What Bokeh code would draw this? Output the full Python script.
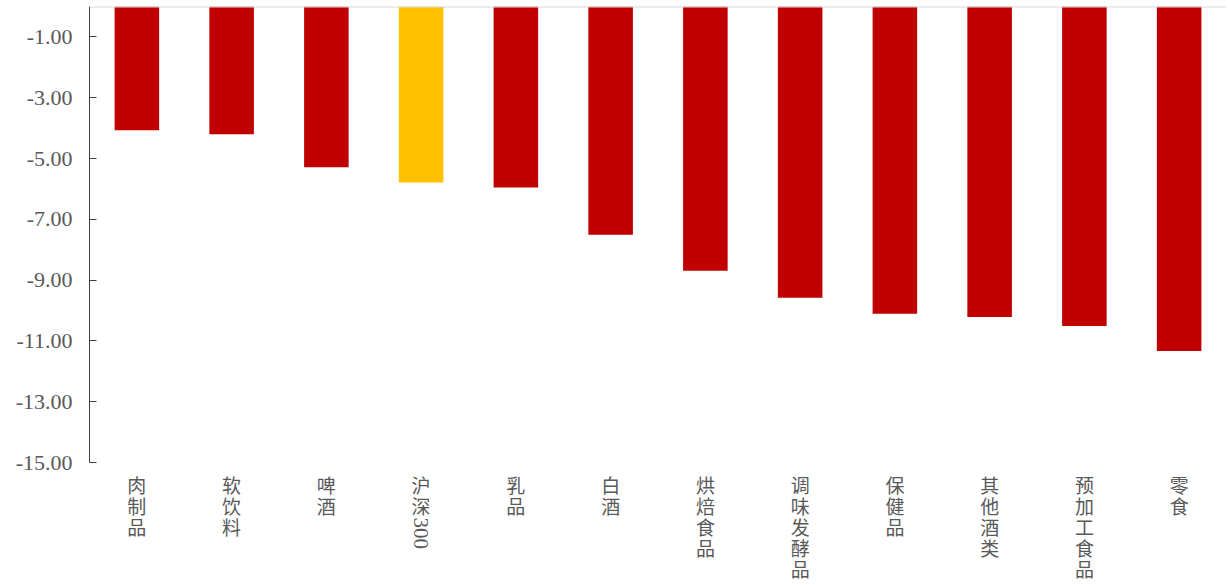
import math
from bokeh.plotting import figure
from bokeh.models import ColumnDataSource, Range1d, FactorRange, FixedTicker, NumeralTickFormatter, Span
from bokeh.core.properties import value
from bokeh.embed import file_html
from bokeh.resources import INLINE

categories = ["肉制品", "软饮料", "啤酒", "沪深300", "乳品", "白酒", "烘焙食品", "调味发酵品", "保健品", "其他酒类", "预加工食品", "零食"]
values = [-4.07, -4.20, -5.29, -5.79, -5.95, -7.51, -8.69, -9.58, -10.11, -10.21, -10.51, -11.33]
highlight = "沪深300"
y_ticks = [-1, -3, -5, -7, -9, -11, -13, -15]

W, H = 1226, 584
TOP, LEFT = 6, 89
frame_h = H - TOP
axis_px = 456                      # pixel height of the 0..-15 axis
ymin, ymax = -15, 0
ppu = axis_px / (ymax - ymin)
y_low = ymax - frame_h / ppu       # extended range so labels fit below axis

colors = ["#FFC000" if c == highlight else "#C00000" for c in categories]
src = ColumnDataSource(dict(cat=categories, val=values, color=colors))

p = figure(x_range=FactorRange(*categories), y_range=Range1d(y_low, ymax),
           width=W, height=H, output_backend="svg", toolbar_location=None,
           min_border_left=LEFT, min_border_top=TOP, min_border_right=0, min_border_bottom=0)
p.vbar(x="cat", top=0, bottom="val", width=0.47, fill_color="color", line_color=None, source=src)

p.add_layout(Span(location=0, dimension="width", line_color="#d9d9d9", line_width=2))

p.grid.visible = False
p.outline_line_color = None
p.background_fill_color = "white"
p.border_fill_color = "white"
p.xaxis.visible = False

ya = p.yaxis[0]
ya.bounds = (ymin, ymax)
ya.ticker = FixedTicker(ticks=y_ticks)
ya.formatter = NumeralTickFormatter(format="0.00")
ya.major_tick_in = 7
ya.major_tick_out = 0
ya.minor_tick_line_color = None
ya.axis_line_color = "#404040"
ya.major_tick_line_color = "#404040"
ya.major_label_text_font = "Liberation Serif"
ya.major_label_text_font_size = "22px"
ya.major_label_text_color = "#595959"
ya.major_label_standoff = 17

# vertical category labels, one character per line
first_gap, pitch, digit_extra = 8, 21, 5
cx, cy, ct = [], [], []
dx, dy, dt = [], [], []
for c in categories:
    parts = list(c) if c != highlight else ["沪", "深", "300"]
    for k, ch in enumerate(parts):
        if ch.isdigit():
            y = ymin - (first_gap + pitch * k + digit_extra) / ppu
            dx.append(c); dy.append(y); dt.append(ch)
        else:
            y = ymin - (first_gap + pitch * k) / ppu
            cx.append(c); cy.append(y); ct.append(ch)

p.text(x=cx, y=cy, text=ct, text_align="center", text_baseline="top",
       text_font=value("Noto Sans CJK SC"), text_font_size="19px", text_color="#595959")
p.text(x=dx, y=dy, text=dt, angle=-math.pi / 2, text_align="left", text_baseline="middle",
       text_font=value("Liberation Serif"), text_font_size="21px", text_color="#595959")

open("out.html", "w").write(file_html(p, INLINE))
